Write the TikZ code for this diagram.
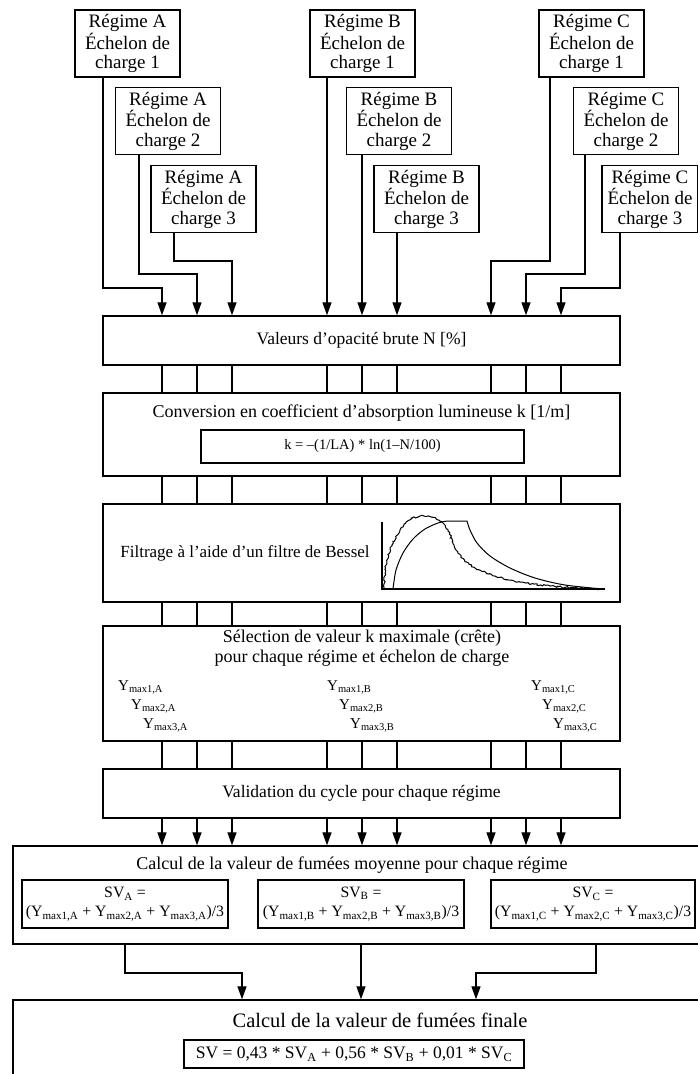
\documentclass[tikz,border=0pt]{standalone}
\usepackage{fontspec}
\setmainfont{Liberation Serif}
\usepackage{tikz}
\usetikzlibrary{arrows.meta, positioning, decorations.pathmorphing}

\begin{document}
\begin{tikzpicture}[x=1pt, y=-1pt,
  txt/.style     = {font=\fontsize{17.5}{20}\selectfont, align=center},
  inbox/.style   = {rectangle, draw, line width=1.4pt, inner sep=0pt,
                    minimum width=105, minimum height=67, align=center,
                    font=\fontsize{19}{19.5}\selectfont},
  panel/.style   = {rectangle, draw, line width=1.4pt, inner sep=0pt,
                    minimum width=517},
  formbox/.style = {rectangle, draw, line width=1.4pt, inner sep=0pt, txt},
  ylab/.style    = {anchor=west, inner sep=0pt, font=\fontsize{15}{17}\selectfont},
  link/.style    = {line width=1.3pt},
  arr/.style     = {link, -{Triangle[width=9pt,length=13pt]}}
]
\useasboundingbox (0,0) rectangle (697,1074);

\node[inbox] (a1) at (127.5,43.5) {Régime A\\Échelon de\\charge 1};
\node[inbox] (a2) at (168,121)    {Régime A\\Échelon de\\charge 2};
\node[inbox] (a3) at (203.5,199)  {Régime A\\Échelon de\\charge 3};
\node[inbox] (b1) at (362.5,43.5) {Régime B\\Échelon de\\charge 1};
\node[inbox] (b2) at (399,121)    {Régime B\\Échelon de\\charge 2};
\node[inbox] (b3) at (426.5,199)  {Régime B\\Échelon de\\charge 3};
\node[inbox] (c1) at (591.5,43.5) {Régime C\\Échelon de\\charge 1};
\node[inbox] (c2) at (626,121)    {Régime C\\Échelon de\\charge 2};
\node[inbox, minimum width=96] (c3) at (650,199) {Régime C\\Échelon de\\charge 3};

\node[panel, minimum height=49, txt] (valeurs) at (361.5,340.5)
  {Valeurs d'opacité brute N [\%]};

\node[panel, minimum height=83] (conv) at (361.5,434.5) {};
\node[txt, font=\fontsize{18}{20}\selectfont] (convtitle) at (361.5,413)
  {Conversion en coefficient d'absorption lumineuse k [1/m]};
\node[formbox, minimum width=323, minimum height=33,
      font=\fontsize{14.5}{17}\selectfont] (convform) at (362.5,446.5)
  {k = –(1/LA) * ln(1–N/100)};

\node[panel, minimum height=98] (filtre) at (361.5,553) {};
\node[txt, font=\fontsize{17}{20}\selectfont] (filtretitle) at (245,553)
  {Filtrage à l'aide d'un filtre de Bessel};

\node[panel, minimum height=115] (selection) at (361.5,683.5) {};
\node[txt, font=\fontsize{18}{19.5}\selectfont] (seltitle) at (362,648)
  {Sélection de valeur k maximale (crête)\\pour chaque régime et échelon de charge};
\node[ylab] (ya1) at (118,687) {Y\textsubscript{max1,A}};
\node[ylab] (ya2) at (131,706) {Y\textsubscript{max2,A}};
\node[ylab] (ya3) at (143,725) {Y\textsubscript{max3,A}};
\node[ylab] (yb1) at (327,687) {Y\textsubscript{max1,B}};
\node[ylab] (yb2) at (339,706) {Y\textsubscript{max2,B}};
\node[ylab] (yb3) at (350,725) {Y\textsubscript{max3,B}};
\node[ylab] (yc1) at (531,687) {Y\textsubscript{max1,C}};
\node[ylab] (yc2) at (542,706) {Y\textsubscript{max2,C}};
\node[ylab] (yc3) at (553,725) {Y\textsubscript{max3,C}};

\node[panel, minimum height=49, txt] (validation) at (361.5,793.5)
  {Validation du cycle pour chaque régime};

\node[panel, minimum width=692, minimum height=98] (moyenne) at (359,895) {};
\node[txt, font=\fontsize{18}{20}\selectfont] (moytitle) at (352,865)
  {Calcul de la valeur de fumées moyenne pour chaque régime};
\node[formbox, minimum width=206, minimum height=48,
      font=\fontsize{15.8}{19}\selectfont] (sva) at (125,904)
  {SV\textsubscript{A} =\\(Y\textsubscript{max1,A} + Y\textsubscript{max2,A} + Y\textsubscript{max3,A})/3};
\node[formbox, minimum width=206, minimum height=48,
      font=\fontsize{15.8}{19}\selectfont] (svb) at (361,904)
  {SV\textsubscript{B} =\\(Y\textsubscript{max1,B} + Y\textsubscript{max2,B} + Y\textsubscript{max3,B})/3};
\node[formbox, minimum width=204, minimum height=48,
      font=\fontsize{15.8}{19}\selectfont] (svc) at (593,904)
  {SV\textsubscript{C} =\\(Y\textsubscript{max1,C} + Y\textsubscript{max2,C} + Y\textsubscript{max3,C})/3};

\node[panel, minimum width=692, minimum height=90] (finale) at (359,1045) {};
\node[txt, font=\fontsize{20.5}{22}\selectfont] (fintitle) at (380,1020)
  {Calcul de la valeur de fumées finale};
\node[formbox, minimum width=340, minimum height=28,
      font=\fontsize{17.5}{19}\selectfont] (finform) at (354,1054)
  {SV = 0,43 * SV\textsubscript{A} + 0,56 * SV\textsubscript{B} + 0,01 * SV\textsubscript{C}};

\foreach \b/\lx/\ty/\ax in {a1/103/288/162, a2/139/274/197, a3/174/261/232,
                             b1/327/300/327, b2/362/300/362, b3/397/300/397,
                             c1/550/261/491, c2/585/274/526, c3/620/288/561}
  \draw[arr] (\lx,0 |- \b.south) |- (\ax,\ty) -- (\ax,0 |- valeurs.north);

\foreach \x in {162,197,232,327,362,397,491,526,561} {
  \draw[link] (\x,0 |- valeurs.south) -- (\x,0 |- conv.north);
  \draw[link] (\x,0 |- conv.south) -- (\x,0 |- filtre.north);
  \draw[link] (\x,0 |- filtre.south) -- (\x,0 |- selection.north);
  \draw[link] (\x,0 |- selection.south) -- (\x,0 |- validation.north);
  \draw[arr]  (\x,0 |- validation.south) -- (\x,0 |- moyenne.north);
}

\draw[arr] (sva |- moyenne.south) |- (242,973) -- (242,0 |- finale.north);
\draw[arr] (svb |- moyenne.south) -- (svb |- finale.north);
\draw[arr] (596,0 |- moyenne.south) |- (476,973) -- (476,0 |- finale.north);

\draw[line width=1.1pt] (382,522) -- (382,589) -- (605,589);
\draw[line width=1pt, decorate,
      decoration={random steps, segment length=1.5pt, amplitude=0.9pt}]
  plot[smooth] coordinates {(384,589) (386,565) (392,545) (400,530) (410,520)
    (420,516) (432,517) (442,522) (448,530) (454,545) (462,558) (475,568)
    (495,576) (520,582) (550,586) (580,588) (603,589)};
\draw[line width=1pt]
  plot[smooth] coordinates {(393,589) (396,570) (403,553) (413,539) (425,529)
    (438,523) (447,521)} -- (467,521)
  -- plot[smooth] coordinates {(467,521) (470,530) (477,543) (490,556)
    (510,568) (535,578) (565,585) (603,589)};
\end{tikzpicture}
\end{document}
